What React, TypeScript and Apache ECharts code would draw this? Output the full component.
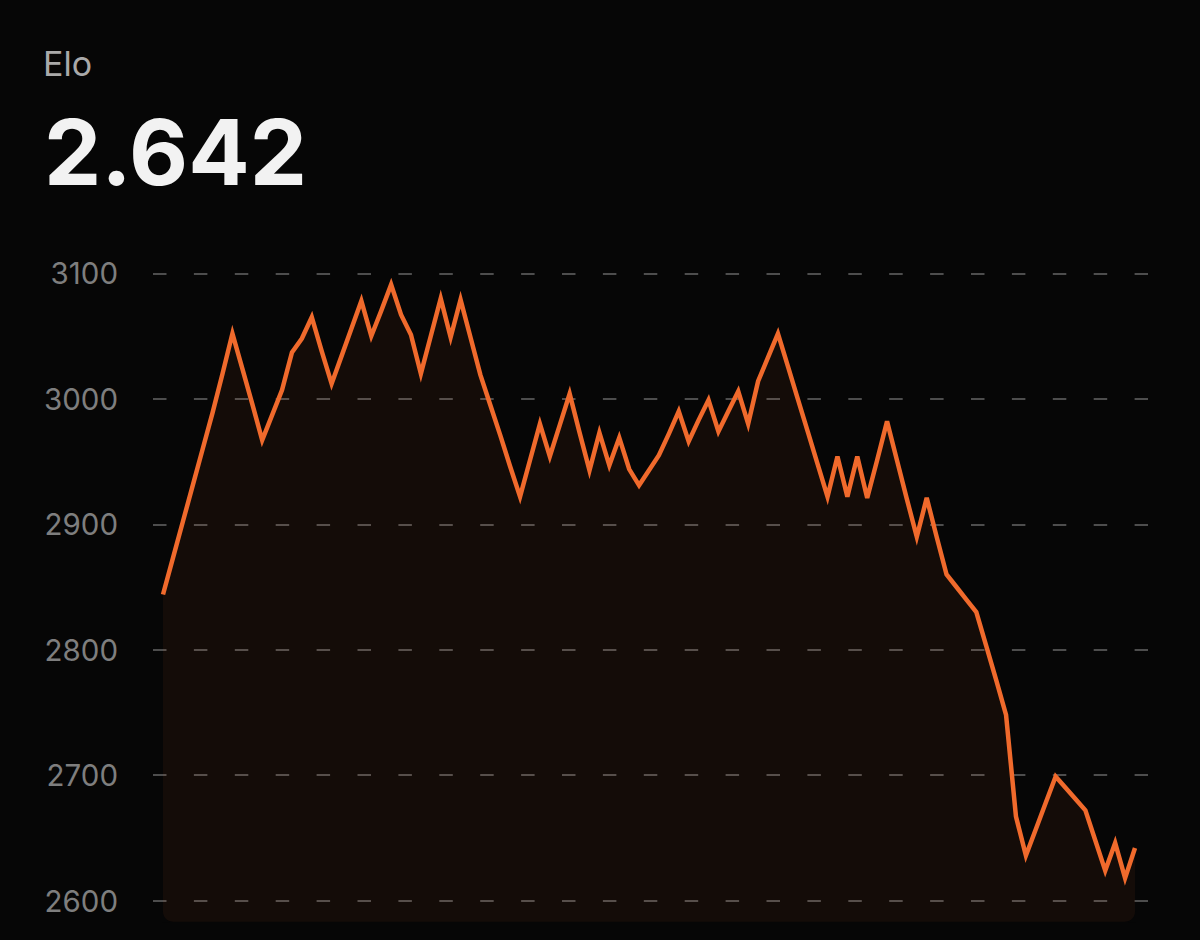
import React, { useEffect, useRef } from "react";
import * as echarts from "echarts";

// Elo rating per game
const eloValues: number[] = [
  2844, 2873, 2902, 2931, 2960, 2989, 3020, 3052, 3024, 2996,
  2967, 2987, 3007, 3037, 3048, 3065, 3038, 3012, 3034, 3056,
  3078, 3050, 3070, 3091, 3067, 3051, 3020, 3050, 3080, 3049,
  3079, 3049, 3019, 2995, 2971, 2946, 2922, 2951, 2980, 2954,
  2979, 3004, 2973, 2943, 2973, 2947, 2969, 2944, 2931, 2943,
  2955, 2972, 2990, 2966, 2983, 2999, 2974, 2990, 3006, 2980,
  3014, 3033, 3052, 3026, 3000, 2974, 2948, 2922, 2954, 2922,
  2954, 2921, 2951, 2982, 2951, 2920, 2890, 2921, 2890, 2860,
  2850, 2840, 2830, 2803, 2776, 2748, 2667, 2636, 2657, 2678,
  2699, 2690, 2681, 2672, 2648, 2624, 2646, 2618, 2642,
];

// Game numbers (categories)
const games: string[] = eloValues.map((_, i) => String(i + 1));

// Y-axis tick labels
const yTicks: number[] = [2600, 2700, 2800, 2900, 3000, 3100];

const titleLabel = "Elo";
const currentValue = "2.642";

export default function App() {
  const ref = useRef<HTMLDivElement>(null);

  useEffect(() => {
    if (!ref.current) return;
    const chart = echarts.init(ref.current, undefined, { renderer: "svg" });

    const W = 1200;
    const H = 940;
    const axisTop = 273.3;
    const axisBottomPx = 900.7; // pixel of lowest tick
    const fillBottomPx = 921.7; // fill extends a bit below the lowest tick
    const yMin = yTicks[0];
    const yMax = yTicks[yTicks.length - 1];
    const pxPerUnit = (axisBottomPx - axisTop) / (yMax - yMin);
    const seriesMin = yMin - (fillBottomPx - axisBottomPx) / pxPerUnit;

    chart.setOption({
      animation: false,
      backgroundColor: "#060606",
      grid: [
        { left: 153, right: W - 1148, top: axisTop, bottom: H - axisBottomPx },
        { left: 163, right: W - 1135, top: axisTop, bottom: H - fillBottomPx },
      ],
      xAxis: [
        { type: "category", gridIndex: 0, data: games, boundaryGap: false, show: false },
        { type: "category", gridIndex: 1, data: games, boundaryGap: false, show: false },
      ],
      yAxis: [
        {
          type: "value",
          gridIndex: 0,
          min: yMin,
          max: yMax,
          interval: yTicks[1] - yTicks[0],
          axisLine: { show: false },
          axisTick: { show: false },
          axisLabel: {
            color: "#7e7e7e",
            fontSize: 29.5,
            fontFamily: "Inter",
            margin: 35,
            formatter: (v: number) => String(v),
          },
          splitLine: {
            show: true,
            lineStyle: { color: "#4d4d4d", width: 2, type: [13.5, 27.4] },
          },
        },
        {
          type: "value",
          gridIndex: 1,
          min: seriesMin,
          max: yMax,
          show: false,
          splitLine: { show: false },
        },
      ],
      series: [
        {
          type: "line",
          xAxisIndex: 1,
          yAxisIndex: 1,
          data: eloValues,
          symbol: "none",
          showSymbol: false,
          lineStyle: { color: "#f06a2c", width: 4.5, join: "miter", miterLimit: 4 },
          areaStyle: { color: "rgba(240,106,44,0.09)", origin: "start" },
          z: 3,
        },
      ],
    });

    // Title texts + rounded corner masks for the fill
    const bl = chart.convertToPixel({ xAxisIndex: 1, yAxisIndex: 1 }, [0, seriesMin]) as number[];
    const br = chart.convertToPixel(
      { xAxisIndex: 1, yAxisIndex: 1 },
      [eloValues.length - 1, seriesMin]
    ) as number[];
    const r = 10;
    const steps = 12;
    const leftPts: number[][] = [];
    const rightPts: number[][] = [];
    for (let k = 0; k <= steps; k++) {
      const a1 = Math.PI - (Math.PI / 2) * (k / steps);
      leftPts.push([bl[0] + r + r * Math.cos(a1), bl[1] - r + r * Math.sin(a1)]);
      const a2 = (Math.PI / 2) * (k / steps);
      rightPts.push([br[0] - r + r * Math.cos(a2), br[1] - r + r * Math.sin(a2)]);
    }
    leftPts.push([bl[0] - 1, bl[1] + 1]);
    leftPts.push([bl[0] - 1, bl[1] - r]);
    rightPts.push([br[0] + 1, br[1] + 1]);
    rightPts.push([br[0] + 1, br[1] - r]);

    chart.setOption({
      graphic: [
        {
          type: "text",
          x: 43,
          y: 63.3,
          style: {
            text: titleLabel,
            fill: "#a9a9a9",
            fontSize: 34,
            fontFamily: "Inter",
            verticalAlign: "middle",
            align: "left",
          },
          z: 10,
        },
        {
          type: "text",
          x: 44,
          y: 151.7,
          style: {
            text: currentValue,
            fill: "#f2f2f2",
            fontSize: 91,
            fontWeight: "bold",
            fontFamily: "Inter",
            verticalAlign: "middle",
            align: "left",
          },
          z: 10,
        },
        {
          type: "polygon",
          shape: { points: leftPts },
          style: { fill: "#060606" },
          z: 10,
        },
        {
          type: "polygon",
          shape: { points: rightPts },
          style: { fill: "#060606" },
          z: 10,
        },
      ],
    });

    return () => {
      chart.dispose();
    };
  }, []);

  return (
    <div
      ref={ref}
      style={{ position: "fixed", left: 0, top: 0, width: 1200, height: 940, background: "#060606" }}
    />
  );
}
